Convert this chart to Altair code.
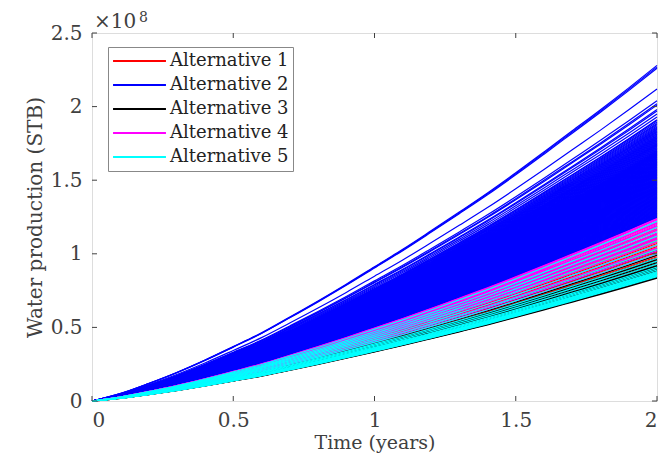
import altair as alt
import pandas as pd

# ---- data (values in units of 1e8 STB) ----
TIMES = [0.0, 0.1, 0.2, 0.3, 0.4, 0.5, 0.6, 0.7, 0.8, 0.9, 1.0,
         1.1, 1.2, 1.3, 1.4, 1.5, 1.6, 1.7, 1.8, 1.9, 2.0]
# fraction of final cumulative volume reached at each time
SHAPE = [0.0, 0.022, 0.052, 0.085, 0.122, 0.162, 0.203, 0.250, 0.298, 0.348, 0.400,
         0.452, 0.507, 0.563, 0.620, 0.680, 0.742, 0.805, 0.868, 0.933, 1.0]

ALT1_END = [1.21, 1.19, 1.17, 1.16, 1.14, 1.13, 1.12, 1.11, 1.10, 1.09, 1.08, 1.07,
            1.06, 1.05, 1.04, 1.03, 1.02, 1.01, 1.00, 0.99, 0.98, 0.97, 0.96, 0.95,
            0.93, 0.92, 0.90]
ALT2_END = [1.245, 1.248, 1.252, 1.256, 1.26, 1.264, 1.268, 1.272, 1.276, 1.28, 1.284, 1.288,
            1.292, 1.296, 1.30, 1.304, 1.308, 1.312, 1.316, 1.32, 1.324, 1.328, 1.332, 1.336,
            1.34, 1.344, 1.348, 1.352, 1.356, 1.36, 1.364, 1.368, 1.372, 1.376, 1.38, 1.384,
            1.388, 1.392, 1.396, 1.40, 1.404, 1.408, 1.412, 1.416, 1.42, 1.424, 1.428, 1.432,
            1.436, 1.44, 1.444, 1.448, 1.452, 1.456, 1.46, 1.464, 1.468, 1.472, 1.476, 1.48,
            1.484, 1.488, 1.492, 1.496, 1.50, 1.504, 1.508, 1.512, 1.516, 1.52, 1.524, 1.528,
            1.532, 1.536, 1.54, 1.544, 1.548, 1.552, 1.556, 1.56, 1.564, 1.568, 1.572, 1.576,
            1.58, 1.584, 1.588, 1.592, 1.596, 1.60, 1.604, 1.608, 1.612, 1.616, 1.62, 1.624,
            1.628, 1.632, 1.636, 1.64, 1.644, 1.648, 1.652, 1.656, 1.66, 1.664, 1.668, 1.672,
            1.676, 1.68, 1.684, 1.688, 1.692, 1.696, 1.70, 1.705, 1.71, 1.715, 1.72, 1.725,
            1.73, 1.735, 1.74, 1.745, 1.75, 1.755, 1.76, 1.765, 1.77, 1.775, 1.78, 1.785,
            1.79, 1.795, 1.80, 1.806, 1.812, 1.818, 1.824, 1.83, 1.836, 1.842, 1.848, 1.855,
            1.862, 1.87, 1.878, 1.886, 1.895, 1.905, 1.91,
            1.93, 1.95, 1.97, 1.98, 2.01, 2.02, 2.04, 2.12, 2.26, 2.27, 2.28]
ALT3_END = [1.02, 0.99, 0.97, 0.96, 0.95, 0.94, 0.93, 0.92, 0.915, 0.91, 0.905, 0.90,
            0.895, 0.89, 0.885, 0.88, 0.875, 0.87, 0.86, 0.85, 0.84, 0.835]
ALT4_END = [1.24, 1.235, 1.23, 1.22, 1.215, 1.21, 1.20, 1.19, 1.185, 1.18, 1.17, 1.16,
            1.15, 1.14, 1.13, 1.12, 1.11, 1.10, 1.08, 1.06, 1.04, 1.02, 1.00]
ALT5_END = [1.22, 1.18, 1.15, 1.12, 1.09, 1.06, 1.03, 1.00, 0.97, 0.95, 0.93, 0.91,
            0.90, 0.89, 0.88, 0.875, 0.87, 0.865, 0.86, 0.855, 0.85, 0.845]

NAMES = ["Alternative 1", "Alternative 2", "Alternative 3", "Alternative 4", "Alternative 5"]
COLORS = ["#FF0000", "#0000FF", "#000000", "#FF00FF", "#00FFFF"]
Y_TICKS = [0, 0.5, 1, 1.5, 2, 2.5]
X_TICKS = [0, 0.5, 1, 1.5, 2]
EXP_BASE = ["×10"]
EXP_POWER = ["8"]

rows = []
for name, ends in zip(NAMES, [ALT1_END, ALT2_END, ALT3_END, ALT4_END, ALT5_END]):
    for i, e in enumerate(ends):
        for t, s in zip(TIMES, SHAPE):
            rows.append({"alt": name, "run": f"{name}-{i}", "t": t, "v": e * s})
df = pd.DataFrame(rows)

FONT = "DejaVu Serif"
TXT = "#404040"
W, H = 565, 368

xenc = alt.X("t:Q", scale=alt.Scale(domain=[0, 2], nice=False),
             axis=alt.Axis(values=X_TICKS, format=".1~f", ticks=False, domain=False, grid=False,
                           labelFont=FONT, labelFontSize=20, labelColor=TXT, labelPadding=9,
                           title="Time (years)", titleFont=FONT, titleFontSize=19,
                           titleFontWeight="normal", titleColor=TXT, titlePadding=3))
yenc = alt.Y("v:Q", scale=alt.Scale(domain=[0, 2.5], nice=False),
             axis=alt.Axis(values=Y_TICKS, format=".1~f", ticks=False, domain=False, grid=False,
                           labelFont=FONT, labelFontSize=20, labelColor=TXT, labelPadding=10,
                           title="Water production (STB)", titleFont=FONT, titleFontSize=20,
                           titleFontWeight="normal", titleColor=TXT, titlePadding=5))
cenc = alt.Color("alt:N", title=None,
                 scale=alt.Scale(domain=NAMES, range=COLORS),
                 legend=alt.Legend(orient="none", legendX=16, legendY=14,
                                   symbolType="stroke", symbolSize=2800, symbolStrokeWidth=2,
                                   clipHeight=20, rowPadding=4,
                                   labelFont=FONT, labelFontSize=18, labelColor="#222222",
                                   labelOffset=3,
                                   fillColor="white", strokeColor="#888888", padding=4))

layers = []
for name in NAMES:
    layers.append(
        alt.Chart(df).transform_filter(alt.datum.alt == name)
        .mark_line(strokeWidth=1.2, interpolate="monotone")
        .encode(x=xenc, y=yenc, color=cenc, detail="run:N")
    )

ydf = pd.DataFrame({"v": Y_TICKS})
xdf = pd.DataFrame({"t": X_TICKS})
tick_style = dict(color=TXT, strokeWidth=1)
layers.append(alt.Chart(ydf).mark_rule(**tick_style).encode(y=yenc, x=alt.value(0), x2=alt.value(5)))
layers.append(alt.Chart(ydf).mark_rule(**tick_style).encode(y=yenc, x=alt.value(W - 5), x2=alt.value(W)))
layers.append(alt.Chart(xdf).mark_rule(**tick_style).encode(x=xenc, y=alt.value(H - 5), y2=alt.value(H)))
layers.append(alt.Chart(xdf).mark_rule(**tick_style).encode(x=xenc, y=alt.value(0), y2=alt.value(5)))

# axis exponent label "×10^8" above the top-left corner
layers.append(
    alt.Chart(pd.DataFrame({"s": EXP_BASE})).mark_text(
        font=FONT, fontSize=20, color=TXT, align="left", baseline="alphabetic")
    .encode(text="s:N", x=alt.value(2), y=alt.value(-5))
)
layers.append(
    alt.Chart(pd.DataFrame({"s": EXP_POWER})).mark_text(
        font=FONT, fontSize=14, color=TXT, align="left", baseline="alphabetic")
    .encode(text="s:N", x=alt.value(47), y=alt.value(-11))
)

chart = alt.layer(*layers).properties(
    width=W, height=H,
    autosize=alt.AutoSizeParams(type="none"),
    padding={"left": 84, "top": 25, "right": 6, "bottom": 57},
).configure_view(stroke=TXT, strokeWidth=1).configure(background="white")

chart.save("out.html", embed_options={"renderer": "svg", "actions": False})
